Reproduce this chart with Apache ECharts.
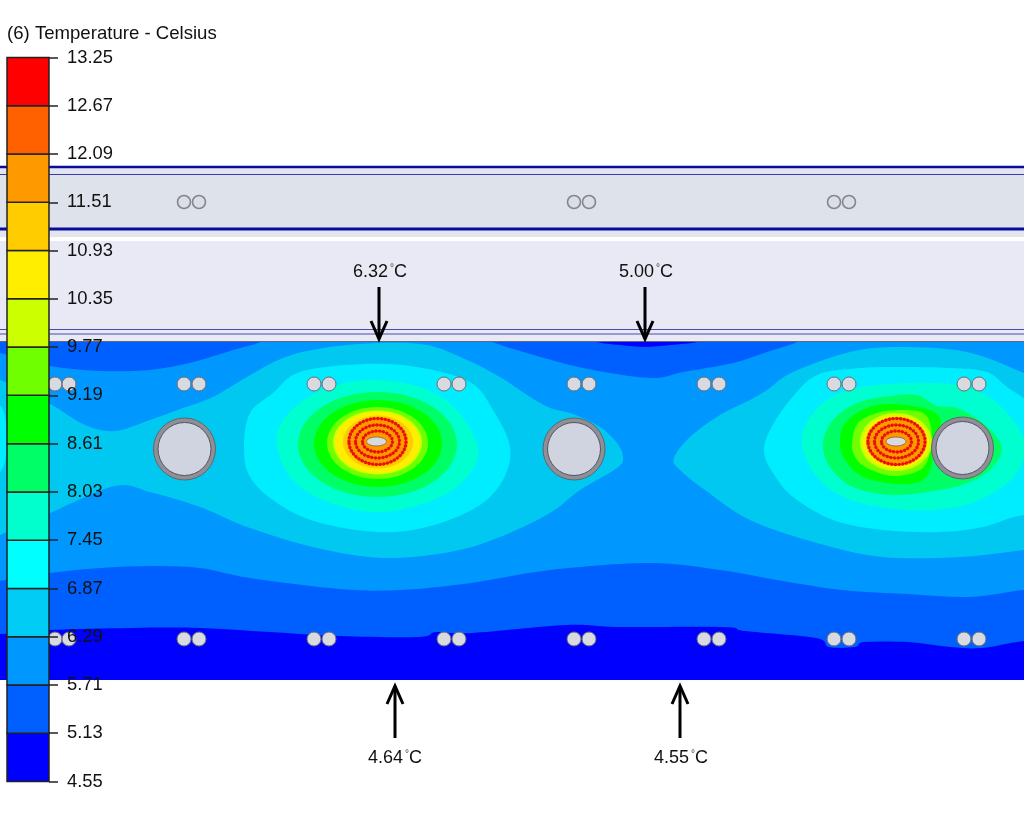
<!DOCTYPE html>
<html><head><meta charset="utf-8">
<style>html,body{margin:0;padding:0;background:#fff}#c{width:1024px;height:825px}</style>
<script src="https://cdn.jsdelivr.net/npm/echarts@6/dist/echarts.min.js"></script>
</head><body><div id="c"></div>
<script>
// Colour scale, lowest band first
const tickLabels = ['4.55','5.13','5.71','6.29','6.87','7.45','8.03','8.61','9.19','9.77','10.35','10.93','11.51','12.09','12.67','13.25'];
const bandColors = ['#0000ff','#0060ff','#0098ff','#00ccf5','#00ffff','#00ffcc','#00ff66','#00ff00','#70ff00','#ccff00','#ffee00','#ffcc00','#ff9900','#ff6000','#ff0000'];
// The slab's fill is slightly softer than the scale in the cyan bands
const slabColors = ['#0000ff','#0060ff','#0098ff','#00c8f0','#00ecff','#00ffd0','#00ff66','#00ff00','#70ff00','#ccff00','#ffee00','#ffcc00','#ff9900','#ff6000','#ff0000'];

// Contours, [x, y]
const band2Region = [[-30,349],[0,353],[50,366],[100,371],[150,370],[193,362],[233,350],[263,341],[285,325],[460,325],[490,341],[527,353],[583,368],[650,378],[683,372],[733,363],[767,352],[800,341],[815,330],[1060,325],[1060,590],[1024,590],[970,597],[908,594],[842,590],[777,580],[720,570],[650,563],[550,570],[471,583],[400,590],[340,589],[250,578],[200,568],[150,566],[100,568],[50,573],[0,581],[-30,586]];
const band3Left = [[-30,376],[0,380],[50,404],[85,425],[115,431],[150,420],[183,408],[213,397],[247,377],[283,358],[323,348],[377,343],[427,345],[467,360],[500,377],[527,395],[550,408],[573,414],[600,427],[617,443],[623,457],[617,468],[580,490],[550,513],[500,537],[450,552],[383,558],[317,548],[250,528],[200,507],[150,492],[115,486],[50,513],[0,535],[-30,545]];
const band3Right = [[674,458],[690,437],[720,415],[750,400],[767,390],[793,372],[850,352],[900,347],[967,352],[1024,373],[1060,390],[1060,545],[1024,550],[960,557],[883,557],[817,543],[750,520],[705,490],[680,470]];
const band4Left = [[-30,400],[0,405],[7,440],[0,472],[-30,480]];
const band0Bottom = [[-30,635],[0,634],[50,630],[130,628],[200,628],[270,632],[340,636],[419,637],[436,632],[471,633],[567,625],[619,627],[724,627],[745,631],[816,638],[829,647],[855,647],[864,642],[908,642],[951,647],[982,648],[1024,641],[1060,640],[1060,720],[-30,720]];
const band0Top = [[590,335],[597,342],[620,345],[645,347],[670,345],[697,342],[705,335]];
const band4Spot1 = [[244,447],[250,413],[273,393],[300,372],[363,364],[417,367],[470,382],[493,410],[510,447],[503,480],[477,507],[427,527],[377,532],[317,522],[277,503],[250,477]];
const band5Spot1 = [[277,447],[283,420],[307,398],[337,385],[377,380],[423,388],[457,410],[478,447],[470,473],[440,497],[383,512],[330,503],[293,480]];
const band4Spot2 = [[764,452],[770,430],[790,400],[817,375],[860,368],[900,367],[950,368],[987,372],[1007,387],[1030,402],[1060,420],[1060,520],[1024,515],[983,527],[940,532],[883,530],[833,520],[793,497],[773,473]];
const band5Spot2 = [[802,445],[808,420],[830,398],[863,387],[907,383],[957,385],[990,398],[1013,420],[1025,445],[1017,473],[993,493],[957,507],[907,510],[850,500],[817,477]];
const band6Spot2 = [[823,443],[833,420],[857,403],[890,396],[917,395],[937,406],[957,408],[983,423],[1002,447],[990,470],[967,483],[940,490],[893,495],[853,487],[830,467]];
const band7Spot2 = [[840,443],[845,423],[867,408],[893,404],[930,410],[941,423],[932,443],[932,463],[923,480],[897,484],[863,477],[845,460]];
const band8Spot2 = [[852,443],[858,423],[877,413],[900,410],[923,413],[931,428],[930,453],[920,470],[893,476],[867,468],[855,457]];
const contourLayers = [
  [2,band2Region],[0,band0Bottom],[0,band0Top],[3,band3Left],[3,band3Right],[4,band4Left],
  [4,band4Spot1],[5,band5Spot1],[4,band4Spot2],[5,band5Spot2],[6,band6Spot2],[7,band7Spot2],[8,band8Spot2]
];
// Inner contours: [band, cx, cy, rx, ry]
const innerContours = [
  [6,377.5,444.5,79.5,52.5],[7,378,443.5,64,43.5],[8,377.5,443,50.5,36],[9,377.5,442.5,44.5,32],[10,377.5,442.5,42.5,30.5],[11,378,442,35,26.5],[12,377.5,441.5,30.5,24.5],
  [9,896,442,36,29],[10,896,442,33,26.5],[12,896.5,441.5,30.5,24.5]
];
// Heating-coil rings and the centre hole: [cx, cy, rx, ry]
const coilRings = [[377.5,441.5,28.5,23],[377.5,441.5,22,16.5],[377.5,441.5,15,10.5],[896.5,441.5,28.5,23],[896.5,441.5,22,16.5],[896.5,441.5,15,10.5]];
const coilHoles = [[376.5,441.5,10,4.5],[896,441.5,10,4.5]];

const pipePairX = [55,69,184,199,314,329,444,459,574,589,704,719,834,849,964,979];
const lowerPairY = 639, upperPairY = 384;
const stripPairX = [184,199,574,589,834,849];
const stripPairY = 202;
const largePipes = [[184.5,449],[574,449],[962.5,448]];

// Arrows: [x, from y, to y], labels: [x, y, value]
const arrows = [[379,287,341],[645,287,341],[395,738,684],[680,738,684]];
const arrowLabels = [[380,272,'6.32'],[646,272,'5.00'],[395,758,'4.64'],[681,758,'4.55']];

// Wall layers above the slab: [y from, y to, colour]
const wallStrips = [[167,229,'#dee2eb'],[167,174,'#e2e4f0'],[229,237,'#e3e5ef'],[241,342,'#e8e9f5']];
const wallLines = [[167,2.6,'#0a0a9c'],[174.5,1,'#3a3ab0'],[229,2.8,'#0a0a9c'],[329.5,1,'#4a4aa8'],[334,1,'#4a4aa8'],[341.5,1,'#66667a']];

const chart = echarts.init(document.getElementById('c'), null, {renderer:'canvas'});
const hidden = {show:false};
const idx = a => a.map((_,i)=>[i]);
// closed curve through the read points
function curvePath(p){
  const n=p.length; let d='M'+p[0][0]+' '+p[0][1];
  for(let i=0;i<n;i++){
    const a=p[(i-1+n)%n],b=p[i],c=p[(i+1)%n],e=p[(i+2)%n];
    d+='C'+(b[0]+(c[0]-a[0])/6)+' '+(b[1]+(c[1]-a[1])/6)+' '+(c[0]-(e[0]-b[0])/6)+' '+(c[1]-(e[1]-b[1])/6)+' '+c[0]+' '+c[1];
  }
  return d+'Z';
}
const poly = (pts, api, fill) => ({type:'path',shape:{pathData:curvePath(pts.map(p=>api.coord(p)))},style:{fill:fill}});
const ell = (e, api, style) => { const c = api.coord([e[0],e[1]]); const s = api.size([e[2],e[3]]); return {type:'ellipse',shape:{cx:c[0],cy:c[1],rx:s[0],ry:s[1]},style:style}; };

chart.setOption({
  animation:false,
  backgroundColor:'#fff',
  title:{text:'(6) Temperature - Celsius',left:7,top:24,padding:0,textStyle:{fontFamily:'Liberation Sans',fontSize:18.6,fontWeight:'normal',color:'#111'}},
  grid:[
    {left:0,top:0,width:1024,height:825},
    {left:0,top:342,width:1024,height:338},
    {left:7,top:57.5,width:42,height:724}
  ],
  xAxis:[
    {type:'value',gridIndex:0,min:0,max:1024,...hidden},
    {type:'value',gridIndex:1,min:0,max:1024,...hidden},
    {type:'value',gridIndex:2,min:0,max:1,...hidden}
  ],
  yAxis:[
    {type:'value',gridIndex:0,min:0,max:825,inverse:true,...hidden},
    {type:'value',gridIndex:1,min:342,max:680,inverse:true,...hidden},
    {type:'value',gridIndex:2,min:0,max:15,interval:1,position:'right',z:12,
     axisLine:{show:false,onZero:false},splitLine:{show:false},
     axisTick:{show:true,length:9,lineStyle:{color:'#222',width:1.5}},
     axisLabel:{show:true,margin:18,padding:[6,0,0,0],color:'#111',fontFamily:'Liberation Sans',fontSize:18.4,formatter:v=>tickLabels[v]}}
  ],
  series:[
    {type:'custom',name:'walls',xAxisIndex:0,yAxisIndex:0,z:1,silent:true,data:idx(wallStrips),
     renderItem:(p,api)=>{const w=wallStrips[api.value(0)];const a=api.coord([0,w[0]]),b=api.coord([1024,w[1]]);
       return {type:'rect',shape:{x:a[0],y:a[1],width:b[0]-a[0],height:b[1]-a[1]},style:{fill:w[2]}};}},
    {type:'custom',name:'wallLines',xAxisIndex:0,yAxisIndex:0,z:2,silent:true,data:idx(wallLines),
     renderItem:(p,api)=>{const w=wallLines[api.value(0)];const a=api.coord([0,w[0]]),b=api.coord([1024,w[0]]);
       return {type:'line',shape:{x1:a[0],y1:a[1],x2:b[0],y2:b[1]},style:{stroke:w[2],lineWidth:w[1]}};}},
    {type:'custom',name:'slabBase',xAxisIndex:1,yAxisIndex:1,z:3,silent:true,data:[[0]],
     renderItem:(p,api)=>{const a=api.coord([0,342]),b=api.coord([1024,680]);
       return {type:'rect',shape:{x:a[0],y:a[1],width:b[0]-a[0],height:b[1]-a[1]},style:{fill:slabColors[1]}};}},
    {type:'custom',name:'contours',xAxisIndex:1,yAxisIndex:1,z:4,clip:true,silent:true,data:idx(contourLayers),
     renderItem:(p,api)=>{const l=contourLayers[api.value(0)];return poly(l[1],api,slabColors[l[0]]);}},
    {type:'custom',name:'innerContours',xAxisIndex:1,yAxisIndex:1,z:5,silent:true,data:idx(innerContours),
     renderItem:(p,api)=>{const e=innerContours[api.value(0)];return ell(e.slice(1),api,{fill:slabColors[e[0]]});}},
    {type:'custom',name:'coilLines',xAxisIndex:1,yAxisIndex:1,z:6,silent:true,data:idx(coilRings),
     renderItem:(p,api)=>ell(coilRings[api.value(0)],api,{fill:'none',stroke:'#e81000',lineWidth:1})},
    {type:'custom',name:'coilDots',xAxisIndex:1,yAxisIndex:1,z:7,silent:true,data:idx(coilRings),
     renderItem:(p,api)=>ell(coilRings[api.value(0)],api,{fill:'none',stroke:'#e81000',lineWidth:3.4,lineCap:'round',lineDash:[0.01,3.7]})},
    {type:'custom',name:'coilHoles',xAxisIndex:1,yAxisIndex:1,z:8,silent:true,data:idx(coilHoles),
     renderItem:(p,api)=>ell(coilHoles[api.value(0)],api,{fill:'#d8dae2',stroke:'#a06a30',lineWidth:1})},
    {type:'scatter',name:'pipesOuter',xAxisIndex:0,yAxisIndex:0,z:8,silent:true,symbolSize:62,data:largePipes,
     itemStyle:{opacity:1,color:'#8e8f98',borderColor:'#666',borderWidth:1}},
    {type:'scatter',name:'pipesInner',xAxisIndex:0,yAxisIndex:0,z:8.5,silent:true,symbolSize:53,data:largePipes,
     itemStyle:{opacity:1,color:'#d0d4e0',borderColor:'#55555f',borderWidth:1}},
    {type:'scatter',name:'pairsUpper',xAxisIndex:0,yAxisIndex:0,z:8,silent:true,symbolSize:14,data:pipePairX.map(x=>[x,upperPairY]),
     itemStyle:{opacity:1,color:'#d8dae2',borderColor:'#6c6c74',borderWidth:1}},
    {type:'scatter',name:'pairsLower',xAxisIndex:0,yAxisIndex:0,z:8,silent:true,symbolSize:14,data:pipePairX.map(x=>[x,lowerPairY]),
     itemStyle:{opacity:1,color:'#d8dae2',borderColor:'#6c6c74',borderWidth:1}},
    {type:'scatter',name:'pairsStrip',xAxisIndex:0,yAxisIndex:0,z:8,silent:true,symbolSize:13,data:stripPairX.map(x=>[x,stripPairY]),
     itemStyle:{opacity:1,color:'#dadee8',borderColor:'#85858c',borderWidth:1.6}},
    {type:'custom',name:'arrows',xAxisIndex:0,yAxisIndex:0,z:9,silent:true,data:idx(arrows),
     renderItem:(p,api)=>{const a=arrows[api.value(0)];const s=api.coord([a[0],a[1]]),t=api.coord([a[0],a[2]]);const d=t[1]>s[1]?-20:20;
       return {type:'group',children:[
         {type:'line',shape:{x1:s[0],y1:s[1],x2:t[0],y2:t[1]+(d<0?-2:2)},style:{stroke:'#000',lineWidth:3}},
         {type:'polyline',shape:{points:[[t[0]-8,t[1]+d],[t[0],t[1]+(d<0?-2:2)],[t[0]+8,t[1]+d]]},style:{fill:'none',stroke:'#000',lineWidth:3}}
       ]};}},
    {type:'scatter',name:'arrowLabels',xAxisIndex:0,yAxisIndex:0,z:10,silent:true,symbolSize:1,data:arrowLabels,
     itemStyle:{opacity:1,color:'transparent'},
     label:{show:true,position:'inside',formatter:p=>'{a|'+p.value[2]+'}{d|°}{a|C}',
       rich:{a:{fontFamily:'Liberation Sans',fontSize:18,color:'#111'},d:{fontFamily:'Liberation Sans',fontSize:10,color:'#444',verticalAlign:'top',padding:[0,0,6,2]}}}},
    {type:'custom',name:'colourBar',xAxisIndex:2,yAxisIndex:2,z:11,silent:true,data:idx(bandColors),
     renderItem:(p,api)=>{const i=api.value(0);const a=api.coord([0,i+1]),b=api.coord([1,i]);
       return {type:'rect',shape:{x:a[0],y:a[1],width:b[0]-a[0],height:b[1]-a[1]},style:{fill:bandColors[i],stroke:'#222',lineWidth:1.5}};}}
  ]
});
</script></body></html>
